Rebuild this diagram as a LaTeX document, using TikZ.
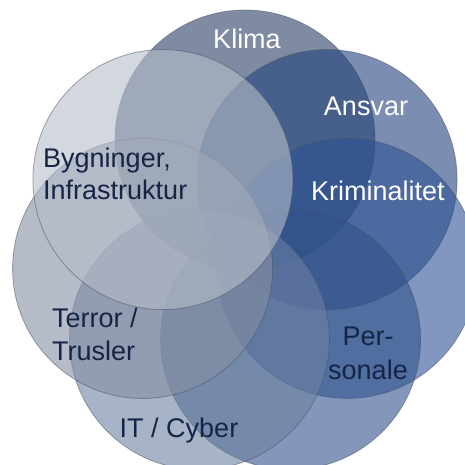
\documentclass[tikz,border=0pt]{standalone}
\usepackage{fontspec}
\setmainfont{Liberation Sans}
\definecolor{cKlima}{RGB}{40,62,100}
\definecolor{cAnsvar}{RGB}{35,65,125}
\definecolor{cKrim}{RGB}{45,82,148}
\definecolor{cPers}{RGB}{50,82,140}
\definecolor{cIT}{RGB}{108,128,162}
\definecolor{cTerror}{RGB}{132,143,162}
\definecolor{cByg}{RGB}{182,189,200}
\definecolor{txtdark}{RGB}{22,36,70}
\definecolor{edge}{RGB}{70,80,100}
\begin{document}
\begin{tikzpicture}[x=1pt,y=-1pt,
  venn/.style={circle, minimum size=260pt, inner sep=0pt, fill=#1, fill opacity=0.6, draw=edge, draw opacity=0.5, line width=0.8pt},
  lbl/.style={font=\fontsize{27}{32}\selectfont, inner sep=0pt}]
\useasboundingbox (0,0) rectangle (465,464);
\clip (0,0) rectangle (465,464);
\node[venn=cKlima]  (klima)  at (245,140)     {};
\node[venn=cAnsvar] (ansvar) at (327.1,179.6) {};
\node[venn=cKrim]   (krim)   at (347.4,268.4) {};
\node[venn=cPers]   (pers)   at (290.6,339.6) {};
\node[venn=cIT]     (it)     at (199.4,339.6) {};
\node[venn=cTerror] (terror) at (142.6,268.4) {};
\node[venn=cByg]    (byg)    at (162.9,179.6) {};
% labels
\node[lbl, text=white, anchor=base] (tKlima) at (247,48) {Klima};
\node[lbl, text=white, anchor=base] (tAnsvar) at (366,115) {Ansvar};
\node[lbl, text=white, anchor=base] (tKrim) at (378,200) {Kriminalitet};
\node[lbl, text=txtdark, anchor=base west] (tBygA) at (43,167) {Bygninger,};
\node[lbl, text=txtdark, anchor=base west] (tBygB) at (43,199) {Infrastruktur};
\node[lbl, text=txtdark, anchor=base west] (tTerA) at (52,327) {Terror /};
\node[lbl, text=txtdark, anchor=base west] (tTerB) at (52,360) {Trusler};
\node[lbl, text=txtdark, anchor=base] (tIT) at (179,437) {IT / Cyber};
\node[lbl, text=txtdark, anchor=base] (tPerA) at (368,345) {Per-};
\node[lbl, text=txtdark, anchor=base] (tPerB) at (368,379) {sonale};
\end{tikzpicture}
\end{document}
